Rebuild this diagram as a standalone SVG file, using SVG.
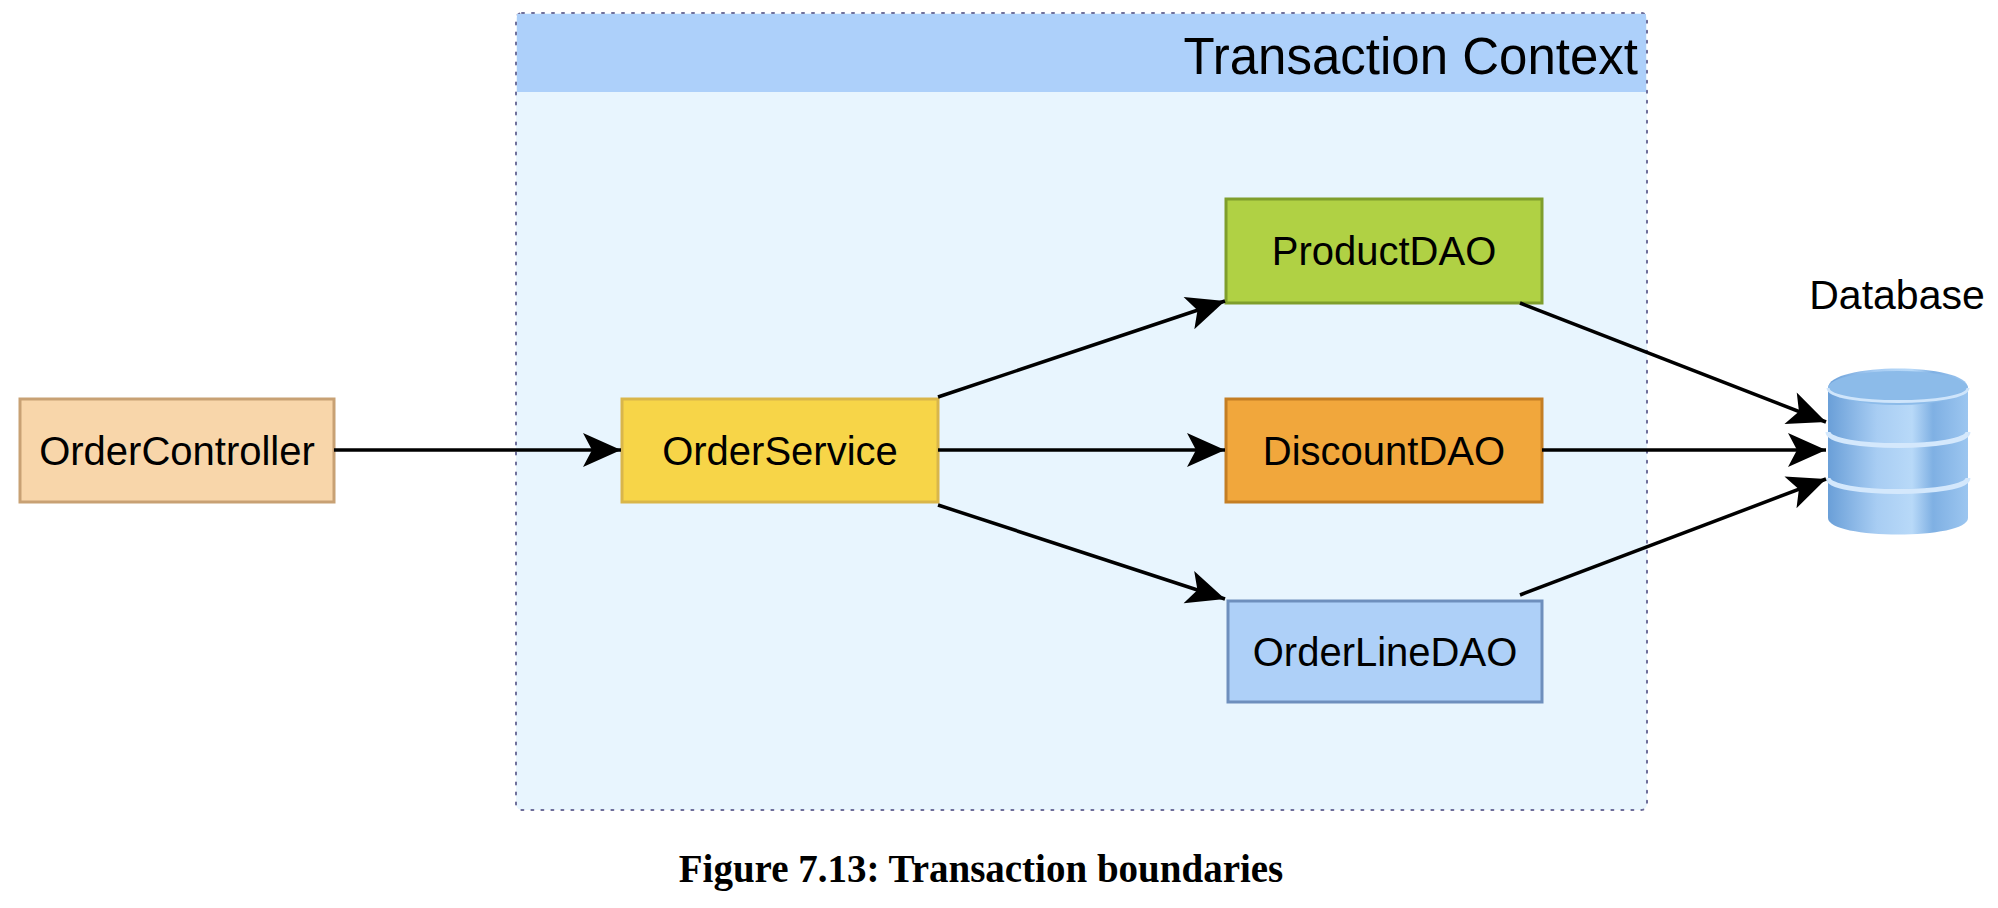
<svg xmlns="http://www.w3.org/2000/svg" width="1998" height="908" viewBox="0 0 1998 908">
<defs>
<style>
.lbl{font-family:"Liberation Sans",Arial,sans-serif;font-size:40px;fill:#000;text-anchor:middle;dominant-baseline:central}
.e{stroke:#000;stroke-width:3.5;fill:none;marker-end:url(#ah)}
</style>
<marker id="ah" viewBox="-40 -20 40 40" refX="0" refY="0" markerWidth="40" markerHeight="40" markerUnits="userSpaceOnUse" orient="auto">
<path d="M-38,-17 L0,0 L-38,17 L-29,0 Z" fill="#000"/>
</marker>
<linearGradient id="cg" x1="0" x2="1" y1="0" y2="0">
<stop offset="0" stop-color="#6a9fd8"/><stop offset="0.35" stop-color="#a8cdf3"/><stop offset="0.6" stop-color="#b8d9f8"/><stop offset="0.75" stop-color="#7fb0e3"/><stop offset="1" stop-color="#9cc6f0"/>
</linearGradient>
</defs>
<rect width="1998" height="908" fill="#fff"/>
<g id="container">
<rect x="516" y="13" width="1131" height="797" rx="6" fill="#e8f5fe" stroke="#6e6e9a" stroke-width="2" stroke-dasharray="2 8" stroke-linecap="round"/>
<rect x="517" y="14" width="1129" height="78" fill="#add0fa"/>
<text x="1638" y="56" font-family="Liberation Sans,Arial,sans-serif" font-size="51" text-anchor="end" dominant-baseline="central">Transaction Context</text>
</g>
<g id="OrderController"><rect x="20" y="399" width="314" height="103" fill="#f8d6aa" stroke="#c8a174" stroke-width="3"/><text class="lbl" x="177" y="451">OrderController</text></g>
<g id="OrderService"><rect x="622" y="399" width="316" height="103" fill="#f7d548" stroke="#d9b64a" stroke-width="3"/><text class="lbl" x="780" y="451">OrderService</text></g>
<g id="ProductDAO"><rect x="1226" y="199" width="316" height="104" fill="#b0d144" stroke="#7f9e2c" stroke-width="3"/><text class="lbl" x="1384" y="251">ProductDAO</text></g>
<g id="DiscountDAO"><rect x="1226" y="399" width="316" height="103" fill="#f1a73c" stroke="#c47e24" stroke-width="3"/><text class="lbl" x="1384" y="451">DiscountDAO</text></g>
<g id="OrderLineDAO"><rect x="1228" y="601" width="314" height="101" fill="#aed0f8" stroke="#6e8fbd" stroke-width="3"/><text class="lbl" x="1385" y="652">OrderLineDAO</text></g>
<g id="Database">
<text x="1897" y="295" font-family="Liberation Sans,Arial,sans-serif" font-size="41" text-anchor="middle" dominant-baseline="central">Database</text>
<path d="M1828,388 C1828,362 1968,362 1968,388 L1968,518 C1968,540 1828,540 1828,518 Z" fill="url(#cg)"/>
<ellipse cx="1898" cy="388" rx="70" ry="17" fill="#8cbbe9"/>
<path d="M1828,388 C1828,406 1968,406 1968,388" fill="none" stroke="#cfe5fb" stroke-width="3"/>
<path d="M1828,432 C1828,450 1968,450 1968,432" fill="none" stroke="#d4e8fc" stroke-width="5"/>
<path d="M1828,478 C1828,496 1968,496 1968,478" fill="none" stroke="#d4e8fc" stroke-width="5"/>
</g>
<g id="connectors">
<line class="e" x1="334" y1="450" x2="621" y2="450"/>
<line class="e" x1="938" y1="397" x2="1225" y2="301"/>
<line class="e" x1="938" y1="450" x2="1225" y2="450"/>
<line class="e" x1="938" y1="505" x2="1225" y2="599"/>
<line class="e" x1="1520" y1="303" x2="1826" y2="422"/>
<line class="e" x1="1542" y1="450" x2="1826" y2="450"/>
<line class="e" x1="1520" y1="595" x2="1826" y2="479"/>
</g>
<text x="981" y="882" font-family="Liberation Serif,'Times New Roman',serif" font-weight="bold" font-size="39" text-anchor="middle">Figure 7.13: Transaction boundaries</text>
</svg>
